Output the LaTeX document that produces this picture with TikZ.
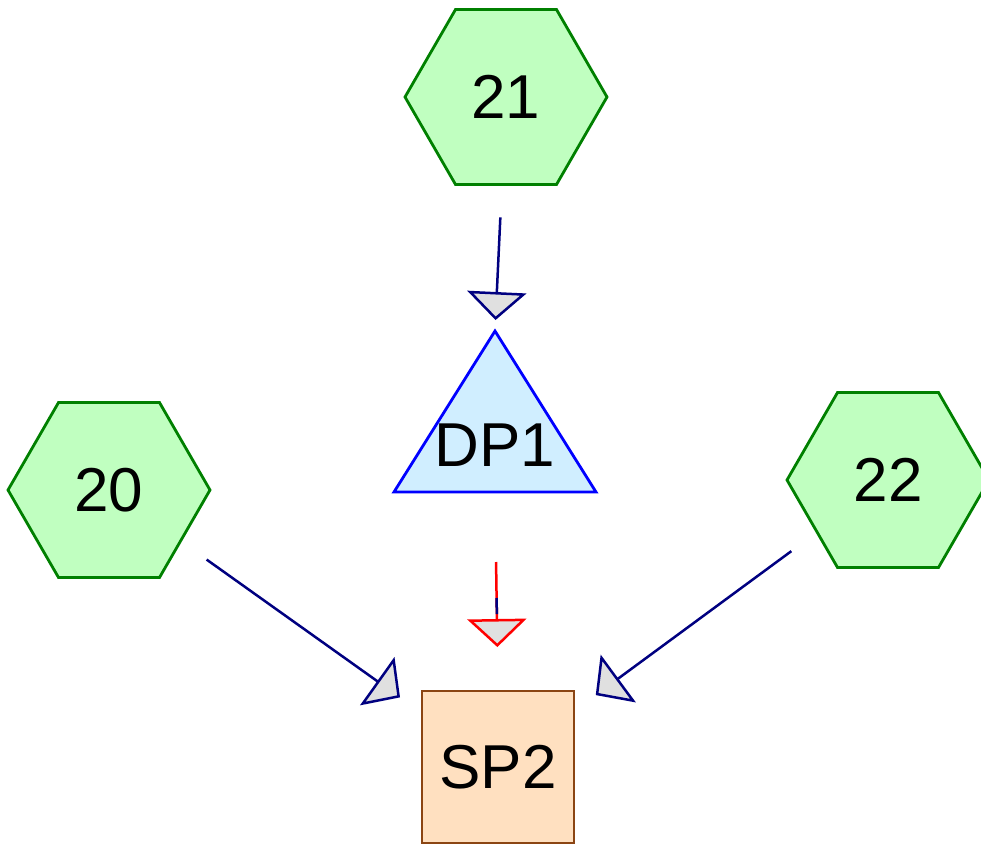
\documentclass[tikz,border=0pt]{standalone}
\usepackage{fontspec}
\setmainfont{Liberation Sans}
\usetikzlibrary{shapes.geometric,arrows.meta}
\definecolor{hexfill}{HTML}{C0FFC0}
\definecolor{hexdraw}{HTML}{008000}
\definecolor{trifill}{HTML}{D0EEFF}
\definecolor{tridraw}{HTML}{0000FF}
\definecolor{boxfill}{HTML}{FFE0C0}
\definecolor{boxdraw}{HTML}{8B4513}
\definecolor{navyline}{HTML}{000080}
\definecolor{headfill}{HTML}{E0E0E0}
\begin{document}
\begin{tikzpicture}[x=1pt,y=-1pt,
  bigtext/.style={font=\fontsize{62}{62}\selectfont},
  hexnode/.style={regular polygon, regular polygon sides=6, minimum size=202pt,
    inner sep=0pt, outer sep=0pt, fill=hexfill, draw=hexdraw, line width=2.8pt, bigtext},
  trinode/.style={isosceles triangle, shape border rotate=90, isosceles triangle stretches,
    minimum width=202pt, minimum height=161pt, inner sep=0pt, outer sep=0pt,
    fill=trifill, draw=tridraw, line width=2.8pt, bigtext},
  boxnode/.style={rectangle, minimum size=152pt, inner sep=0pt, outer sep=0pt,
    fill=boxfill, draw=boxdraw, line width=2.6pt, bigtext},
  arr/.style={draw=navyline, line width=2.5pt,
    -{Triangle[length=28pt,width=59pt,fill=headfill]}},
  redarr/.style={draw=red, line width=2.5pt,
    -{Triangle[length=28pt,width=59pt,fill=headfill]}}
]
\useasboundingbox (0,0) rectangle (981,844);
\node[hexnode] (h21) at (506,97) {21};
\node[hexnode] (h20) at (109,490) {20};
\node[hexnode] (h22) at (888,480) {22};
\node[trinode, anchor=apex] (dp1) at (495,331) {\smash{\makebox[0pt]{\raisebox{-30pt}{DP1}}}};
\node[boxnode] (sp2) at (498,767) {SP2};
\draw[arr, shorten <=33pt, shorten >=11pt] (h21) -- (dp1.apex);
\draw[arr, shorten <=32pt, shorten >=27pt] (h20) -- (sp2);
\draw[arr, shorten <=32pt, shorten >=27pt] (h22) -- (sp2);
\draw[redarr, shorten <=70pt, shorten >=44pt] (dp1.lower side) -- (sp2.north);
\draw[draw=navyline, line width=2.5pt, shorten <=106pt, shorten >=77pt] (dp1.lower side) -- (sp2.north);
\end{tikzpicture}
\end{document}
